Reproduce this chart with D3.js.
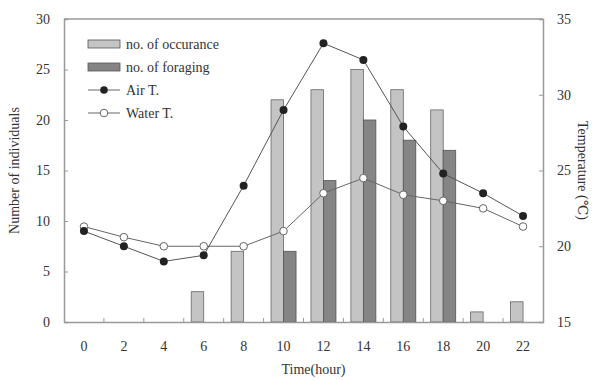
<!DOCTYPE html>
<html>
<head>
<script src="https://d3js.org/d3.v7.min.js"></script>
<style>
body { margin: 0; background: #fff; }
text { font-family: "Liberation Serif", "DejaVu Serif", serif; fill: #333; }
</style>
</head>
<body>
<script>
var hours = ["0", "2", "4", "6", "8", "10", "12", "14", "16", "18", "20", "22"];
var occurance = [0, 0, 0, 3, 7, 22, 23, 25, 23, 21, 1, 2];
var foraging = [0, 0, 0, 0, 0, 7, 14, 20, 18, 17, 0, 0];
var airT = [21, 20, 19, 19.4, 24, 29, 33.4, 32.3, 27.9, 24.8, 23.5, 22];
var waterT = [21.3, 20.6, 20, 20, 20, 21, 23.5, 24.5, 23.4, 23, 22.5, 21.3];
var leftTicks = [0, 5, 10, 15, 20, 25, 30];
var rightTicks = [15, 20, 25, 30, 35];

var W = 595, H = 381;
var m = { left: 64, right: 52, top: 19, bottom: 59 };
var iw = W - m.left - m.right, ih = H - m.top - m.bottom;

var svg = d3.select("body").append("svg")
  .attr("width", W)
  .attr("height", H);

var g = svg.append("g").attr("transform", "translate(" + m.left + "," + m.top + ")");

var x = d3.scaleBand().domain(hours).range([0, iw]);
var y = d3.scaleLinear().domain([0, 30]).range([ih, 0]);
var y2 = d3.scaleLinear().domain([15, 35]).range([ih, 0]);
var bw = 12.5;
var cx = function(h) { return x(h) + x.bandwidth() / 2; };

function pairs(vals) {
  return hours.map(function(h, i) { return { h: h, v: vals[i] }; })
    .filter(function(d) { return d.v > 0; });
}

// bars
g.selectAll(".occ")
  .data(pairs(occurance))
  .enter().append("rect")
  .attr("x", function(d) { return cx(d.h) - bw; })
  .attr("y", function(d) { return y(d.v); })
  .attr("width", bw)
  .attr("height", function(d) { return ih - y(d.v); })
  .attr("fill", "#c4c4c4")
  .attr("stroke", "#666")
  .attr("stroke-width", 0.8);

g.selectAll(".for")
  .data(pairs(foraging))
  .enter().append("rect")
  .attr("x", function(d) { return cx(d.h); })
  .attr("y", function(d) { return y(d.v); })
  .attr("width", bw)
  .attr("height", function(d) { return ih - y(d.v); })
  .attr("fill", "#858585")
  .attr("stroke", "#555")
  .attr("stroke-width", 0.8);

// lines
var line = d3.line()
  .x(function(d, i) { return cx(hours[i]); })
  .y(function(d) { return y2(d); });

g.append("path").datum(waterT)
  .attr("d", line).attr("fill", "none").attr("stroke", "#666").attr("stroke-width", 1);
g.append("path").datum(airT)
  .attr("d", line).attr("fill", "none").attr("stroke", "#555").attr("stroke-width", 1);

g.selectAll(".wdot").data(waterT).enter().append("circle")
  .attr("cx", function(d, i) { return cx(hours[i]); })
  .attr("cy", function(d) { return y2(d); })
  .attr("r", 3.8)
  .attr("fill", "#fff").attr("stroke", "#666").attr("stroke-width", 1);

g.selectAll(".adot").data(airT).enter().append("circle")
  .attr("cx", function(d, i) { return cx(hours[i]); })
  .attr("cy", function(d) { return y2(d); })
  .attr("r", 4)
  .attr("fill", "#222");

// axes
var frame = "#999";
var xAxis = g.append("g").attr("transform", "translate(0," + ih + ")")
  .call(d3.axisBottom(x).tickSize(0).tickPadding(19));
xAxis.select(".domain").attr("stroke", frame).attr("stroke-width", 1.5);
xAxis.selectAll("text").attr("font-size", 14).attr("fill", "#444");
// inward ticks at band edges
g.selectAll(".xt").data(hours.slice(1)).enter().append("line")
  .attr("x1", function(d) { return x(d); })
  .attr("x2", function(d) { return x(d); })
  .attr("y1", ih).attr("y2", ih - 4)
  .attr("stroke", frame);

var yAxis = g.append("g")
  .call(d3.axisLeft(y).tickValues(leftTicks).tickSize(-4).tickPadding(14));
yAxis.select(".domain").attr("stroke", frame).attr("stroke-width", 1.5);
yAxis.selectAll(".tick line").attr("stroke", frame);
yAxis.selectAll("text").attr("font-size", 14).attr("fill", "#444");

var y2Axis = g.append("g").attr("transform", "translate(" + iw + ",0)")
  .call(d3.axisRight(y2).tickValues(rightTicks).tickSize(-4).tickPadding(14));
y2Axis.select(".domain").attr("stroke", frame).attr("stroke-width", 1.5);
y2Axis.selectAll(".tick line").attr("stroke", frame);
y2Axis.selectAll("text").attr("font-size", 14).attr("fill", "#444");

g.append("line").attr("x1", 0).attr("x2", iw).attr("y1", 0).attr("y2", 0)
  .attr("stroke", frame).attr("stroke-width", 1.5);

// axis titles
svg.append("text")
  .attr("transform", "translate(19," + (m.top + ih / 2) + ") rotate(-90)")
  .attr("text-anchor", "middle").attr("font-size", 14)
  .text("Number of individuals");
svg.append("text")
  .attr("transform", "translate(578," + (m.top + ih / 2) + ") rotate(90)")
  .attr("text-anchor", "middle").attr("font-size", 14)
  .text("Temperature (\u2103)");
svg.append("text")
  .attr("x", m.left + iw / 2 + 10).attr("y", 374)
  .attr("text-anchor", "middle").attr("font-size", 14)
  .text("Time(hour)");

// legend
var leg = svg.append("g").attr("transform", "translate(88,44)");
var legItems = [
  { label: "no. of occurance", type: "bar", fill: "#c4c4c4" },
  { label: "no. of foraging", type: "bar", fill: "#858585" },
  { label: "Air T.", type: "line", fill: "#222" },
  { label: "Water T.", type: "line", fill: "#fff" }
];
var li = leg.selectAll("g").data(legItems).enter().append("g")
  .attr("transform", function(d, i) { return "translate(0," + i * 23 + ")"; });
li.filter(function(d) { return d.type === "bar"; }).append("rect")
  .attr("x", 0).attr("y", -4).attr("width", 32).attr("height", 8)
  .attr("fill", function(d) { return d.fill; })
  .attr("stroke", "#555").attr("stroke-width", 0.8);
var ll = li.filter(function(d) { return d.type === "line"; });
ll.append("line").attr("x1", 0).attr("x2", 32).attr("y1", 0).attr("y2", 0)
  .attr("stroke", "#666");
ll.append("circle").attr("cx", 16).attr("cy", 0).attr("r", 3.8)
  .attr("fill", function(d) { return d.fill; })
  .attr("stroke", function(d) { return d.fill === "#fff" ? "#666" : "none"; });
li.append("text").attr("x", 38).attr("y", 5).attr("font-size", 14)
  .text(function(d) { return d.label; });
</script>
</body>
</html>
